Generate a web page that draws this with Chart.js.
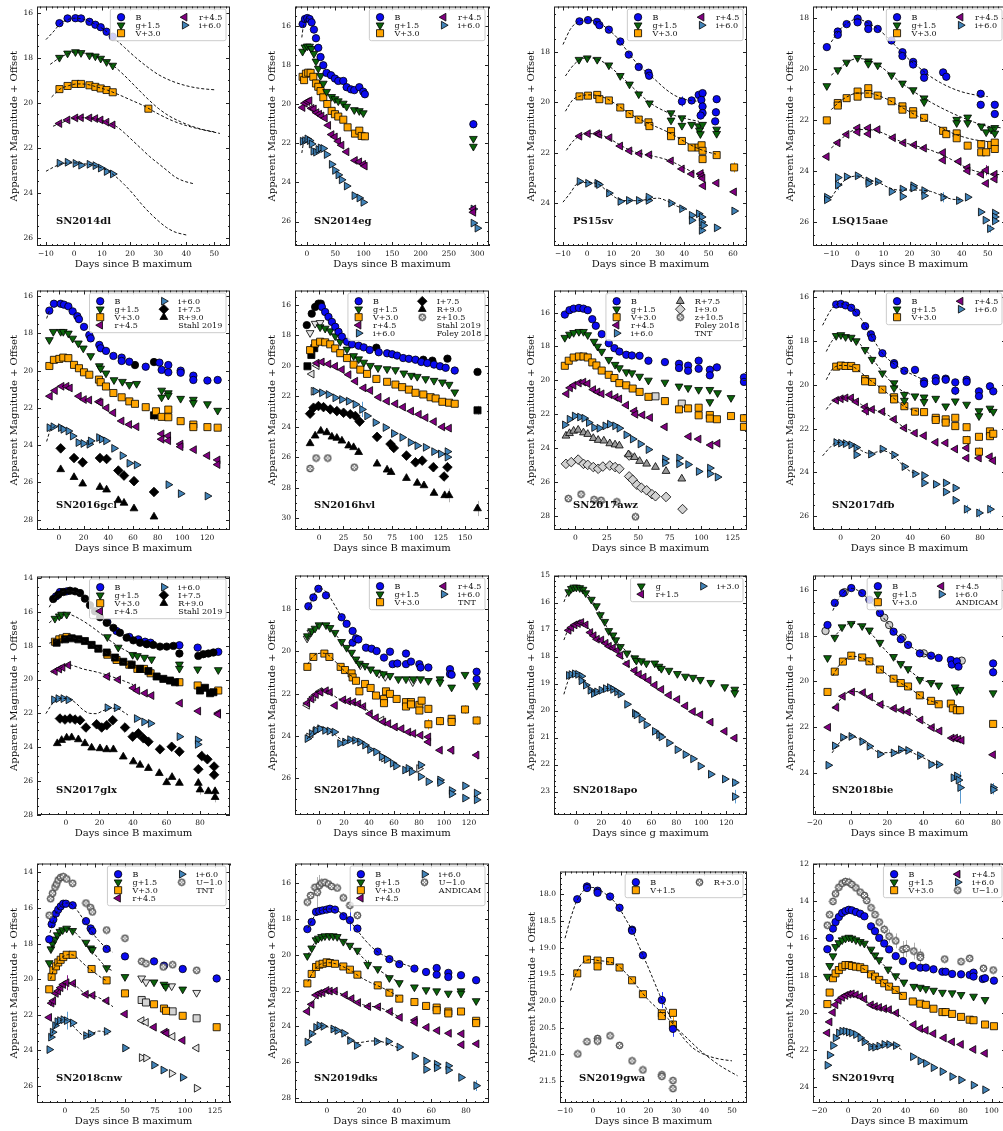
<!DOCTYPE html>
<html>
<head>
<meta charset="utf-8">
<script src="https://cdn.jsdelivr.net/npm/chart.js@4.4.1/dist/chart.umd.min.js"></script>
<style>
  body { margin: 0; background: #fff; }
  #wrap { position: relative; width: 1003px; height: 1131px; overflow: hidden; background: #fff; }
</style>
</head>
<body>
<div id="wrap"></div>
<script>
// ---- SN2014dl ----
const dl_B = [[-5.2,16.47],[-2.3,16.26],[0.5,16.25],[2.5,16.26],[5.5,16.41],[7.6,16.54],[9.5,16.65],[11.6,16.85],[13.8,17.07]];
const dl_g = [[-5.2,18.0],[-2.3,17.81],[0.5,17.75],[2.5,17.79],[5.5,17.9],[7.6,17.94],[9.5,18.04],[11.6,18.19],[13.8,18.35]];
const dl_V = [[-5.2,19.4],[-2.3,19.26],[0.5,19.17],[2.5,19.17],[5.5,19.23],[7.6,19.3],[9.5,19.37],[11.6,19.44],[13.8,19.54],[26.5,20.27]];
const dl_r = [[-5.2,20.93],[-2.3,20.77],[0.5,20.68],[2.5,20.67],[5.5,20.68],[7.6,20.71],[9.5,20.77],[11.6,20.87],[13.8,20.99]];
const dl_i = [[-5.2,22.69],[-2.3,22.65],[0.5,22.7],[2.5,22.78],[5.5,22.74],[7.6,22.8],[9.5,22.91],[11.6,23.06],[13.8,23.17]];
const dl_Bf = [[-10,17.2],[-7,16.8],[-5,16.5],[-2,16.3],[0,16.25],[3,16.28],[6,16.42],[10,16.7],[14,17.1],[18,17.55],[22,18.0],[26,18.4],[30,18.75],[35,19.05],[40,19.25],[45,19.37],[50,19.43]];
const dl_gf = [[-8.5,18.3],[-5,18.0],[-2,17.82],[0.5,17.75],[3,17.78],[6,17.88],[10,18.06],[14,18.36],[18,18.8],[22,19.3],[26,19.8],[30,20.25],[34,20.6],[38,20.85],[42,21.05],[46,21.2],[50,21.3]];
const dl_Vf = [[-8,19.75],[-5,19.4],[-2,19.25],[1,19.17],[4,19.18],[8,19.3],[12,19.45],[16,19.65],[20,19.87],[25,20.15],[30,20.5],[35,20.8],[40,21.02],[45,21.18],[52,21.37]];
const dl_rf = [[-7.5,21.05],[-5,20.93],[-2,20.77],[1,20.68],[4,20.67],[8,20.72],[12,20.87],[15,21.05],[18,21.35],[21,21.7],[24,22.05],[27,22.4],[30,22.7],[33,23.0],[36,23.3],[39,23.48],[42.5,23.6]];
const dl_if = [[-10,23.05],[-7,22.85],[-4,22.7],[0,22.68],[4,22.72],[8,22.82],[12,23.02],[15,23.3],[18,23.65],[21,24.05],[24,24.5],[27,24.9],[30,25.25],[33,25.55],[36,25.75],[40,25.88]];

// ---- SN2014eg ----
const eg_B = [[-7.6,15.92],[-3.5,15.66],[0.6,15.61],[4.7,15.66],[8.2,15.83],[12.3,16.2],[15.9,16.64],[20,17.13],[24,17.6],[28.8,18.02],[34.6,18.41],[42.3,18.53],[49.3,18.7],[55.2,18.82],[64,18.82],[69.9,19.14],[77.5,19.25],[83.4,19.29],[92.2,19.14],[99.2,19.37],[102,19.5],[293,21.03]];
const eg_g = [[-7.6,17.32],[-3.5,17.1],[0.6,17.05],[4.7,17.06],[8.2,17.18],[12.3,17.43],[15.9,17.82],[20,18.19],[24,18.56],[28.8,18.95],[34.6,19.37],[43.5,19.63],[49.3,19.74],[55.2,19.85],[64,19.97],[69.9,20.13],[83.4,20.3],[92.2,20.35],[99.2,20.46],[293,21.77],[293,22.17]];
const eg_V = [[-7.6,18.61],[-5,18.78],[-1.8,18.45],[2.3,18.4],[6.5,18.41],[11.2,18.61],[15.9,18.95],[20,19.12],[24,19.34],[28.8,19.66],[35.8,20.0],[43.5,20.35],[49.3,20.52],[55.2,20.64],[64,20.8],[71.6,21.19],[84.6,21.51],[92.2,21.36],[96.4,21.63],[102,21.65]];
const eg_r = [[-7.6,20.18],[-3.5,19.96],[0.6,19.88],[4.7,19.83],[8.2,20.22],[12.3,20.25],[17,20.44],[21.7,20.52],[25.8,20.61],[31.7,20.72],[37.6,21.09],[43.5,21.56],[49.3,21.68],[55.2,21.9],[61,22.1],[69.9,22.44],[84.6,22.88],[92.2,22.95],[99.2,23.08],[102,23.17],[293,25.36],[293,25.53]];
const eg_i = [[-7.6,21.9],[-3.5,21.87],[0.6,21.78],[4.7,21.87],[8.2,22.04],[11.2,22.41],[15.9,22.46],[20,22.32],[24,22.24],[28.8,22.27],[34.6,22.58],[43.5,23.08],[49.3,23.39],[55.2,23.62],[61,23.87],[69.9,24.19],[83.4,24.68],[92.2,24.8],[99.2,25.02],[293,25.36],[293,26.08],[300,26.34]];
const eg_Bf = [[-9,16.6],[-6,15.95],[-3,15.68],[0,15.61],[3,15.63]];
const eg_if = [[-9,22.5],[-6,21.98],[-3,21.84],[0,21.78]];
const eg_err = [[293,21.03,0.2,'B'],[293,25.45,0.2,'r'],[300,26.34,0.12,'i']];

// ---- PS15sv ----
const sv_B = [[-3.2,16.78],[0.3,16.73],[4,16.8],[5,16.93],[8.9,17.11],[13.6,17.58],[17.1,18.1],[21.2,18.59],[25.2,18.82],[25.5,18.94],[39,19.96],[43,19.92],[45.9,19.7],[47.5,19.63],[47,19.9],[47.5,20.16],[47.5,20.42],[46.7,20.52],[53.3,19.87],[53,20.39],[52.7,20.75]];
const sv_g = [[-3.4,18.3],[0,18.24],[4.1,18.3],[8.9,18.52],[13.6,18.94],[17.4,19.28],[21.2,19.67],[25.6,20.03],[34.5,20.42],[34.5,20.71],[39,20.62],[39,20.92],[43,20.88],[45.9,20.94],[46.2,21.11],[46.6,21.25],[47.5,20.88],[53.3,21.07],[53.3,21.24]];
const sv_V = [[-3.2,19.76],[0.3,19.73],[4.1,19.7],[5,19.87],[8.9,19.92],[13.6,20.2],[17.4,20.46],[21.2,20.68],[25.2,20.79],[25.6,20.94],[34.5,21.14],[34.5,21.34],[39,21.53],[43,21.79],[45.9,21.79],[47.1,21.7],[47.5,21.92],[47.5,22.25],[53.3,22.09],[60.5,22.58]];
const sv_r = [[-3.2,21.34],[0.3,21.24],[4.1,21.24],[5,21.27],[9.2,21.4],[13.6,21.73],[17.4,21.92],[21.5,22.03],[25.6,22.08],[34.5,22.32],[39,22.64],[43,22.84],[46.8,22.82],[47.1,22.93],[47.5,23.01],[47.8,23.31],[53.3,23.2],[60.5,23.55]];
const sv_i = [[-3.2,23.14],[0.3,23.21],[4.1,23.21],[4.8,23.26],[8.9,23.6],[13.6,23.93],[17.1,23.89],[21.2,23.89],[25.2,23.89],[25.2,23.76],[34.5,24.0],[39,24.22],[43,24.48],[43,24.68],[45.9,24.42],[47.1,24.55],[47.1,24.75],[47.1,25.08],[47.8,24.88],[53.3,24.98],[60.5,24.31]];
const sv_Bf = [[-10,17.7],[-7,17.1],[-4,16.8],[0,16.72],[4,16.8],[8,17.05],[12,17.4],[16,17.9],[20,18.4],[24,18.78],[28,19.1],[32,19.45],[36,19.72],[40,19.87],[45,19.95]];
const sv_gf = [[-9,18.95],[-6,18.55],[-3,18.3],[0,18.22],[4,18.28],[8,18.48],[12,18.8],[16,19.15],[20,19.52],[24,19.87],[28,20.15],[32,20.35],[36,20.52],[40,20.63],[46,20.75]];
const sv_Vf = [[-9,20.35],[-6,19.9],[-3,19.75],[0,19.7],[4,19.72],[8,19.85],[12,20.08],[16,20.35],[20,20.58],[24,20.78],[28,20.95],[32,21.12],[36,21.32],[40,21.55],[45,21.8],[50,21.98],[53,22.05]];
const sv_rf = [[-8.6,21.9],[-6,21.55],[-3,21.32],[0,21.24],[4,21.25],[8,21.38],[12,21.6],[16,21.82],[20,21.98],[24,22.07],[28,22.15],[32,22.25],[36,22.4],[40,22.6],[44,22.8],[48,22.98]];
const sv_if = [[-10,23.96],[-7,23.6],[-4,23.22],[0,23.18],[4,23.22],[8,23.5],[12,23.8],[16,23.9],[20,23.9],[25,23.85],[29,23.8],[33,23.92],[37,24.12],[41,24.25]];
const sv_err = [[39,19.96,0.2,'B'],[53,20.39,0.15,'B'],[60.5,22.58,0.2,'V'],[60.5,24.31,0.1,'i'],[60.5,23.55,0.1,'r'],[47.1,25.0,0.2,'i']];

// ---- LSQ15aae ----
const aae_B = [[-11.7,19.15],[-7.5,18.54],[-7.5,18.67],[-4.1,18.25],[0.1,18.03],[0.1,18.18],[4.2,18.25],[4.2,18.44],[7.8,18.44],[13.1,18.89],[17.3,19.35],[17.3,19.5],[21.4,19.73],[21.4,19.83],[25.6,20.14],[25.6,20.35],[32.9,20.14],[34.1,20.31],[47.3,20.98],[47.3,21.41],[52.7,21.41],[52.7,21.77]];
const aae_g = [[-11.7,20.67],[-7.5,20.05],[-4.1,19.75],[0.1,19.57],[4.2,19.7],[4.2,19.8],[7.8,19.86],[13.1,20.25],[17.3,20.57],[21.4,20.83],[25.6,21.15],[25.6,21.3],[38.1,21.99],[38.1,22.12],[42.3,21.9],[42.3,22.12],[47.5,22.25],[49.4,22.48],[51.3,22.38],[52.7,22.31],[52.7,22.53]];
const aae_V = [[-11.7,22.02],[-7.5,21.34],[-7.5,21.44],[-4.1,21.15],[0.1,20.89],[0.1,21.09],[4.2,20.76],[4.2,20.99],[7.8,21.05],[13.1,21.27],[17.3,21.47],[17.3,21.6],[21.4,21.66],[21.4,21.79],[25.6,21.92],[32.9,22.43],[34.1,22.56],[38.1,22.53],[38.1,22.72],[42.3,23.01],[47.5,22.95],[47.5,23.27],[49.4,23.27],[51.3,22.98],[52.7,22.89],[52.7,23.14]];
const aae_r = [[-11.7,23.44],[-7.5,22.9],[-4.1,22.57],[0.1,22.32],[0.1,22.48],[4.2,22.32],[4.2,22.55],[7.8,22.38],[13.7,22.7],[17.7,22.9],[21.8,22.98],[25.6,23.11],[32.9,23.28],[32.9,23.58],[38.9,23.63],[42.3,23.87],[42.3,24.0],[47.5,24.13],[49.4,23.97],[49.4,24.49],[52.7,24.13],[52.7,24.32]];
const aae_i = [[-11.7,25.03],[-11.7,25.13],[-7.5,24.26],[-7.5,24.55],[-4.1,24.23],[0.1,24.19],[4.2,24.39],[4.2,24.49],[7.8,24.42],[13.1,24.81],[17.3,24.71],[17.3,25.0],[21.4,24.58],[21.4,24.67],[25.6,24.77],[25.6,24.97],[32.9,25.03],[38.9,25.16],[42.3,25.03],[47.3,25.61],[49.1,25.93],[50.8,26.26],[52.7,25.65],[52.7,25.8],[52.7,25.96]];
const aae_Bf = [[-10,18.95],[-7,18.5],[-4,18.22],[0,18.05],[4,18.2],[8,18.45],[12,18.82],[16,19.25],[20,19.65],[24,19.98],[28,20.3],[32,20.55],[36,20.75],[40,20.9],[45,21.02],[50,21.09]];
const aae_gf = [[-10,20.25],[-7,20.0],[-4,19.75],[0,19.6],[4,19.65],[8,19.85],[12,20.15],[16,20.48],[20,20.78],[24,21.05],[28,21.3],[32,21.52],[36,21.72],[40,21.9],[45,22.1],[50,22.25],[55,22.31]];
const aae_Vf = [[-10,21.6],[-7,21.3],[-4,21.1],[0,20.95],[4,20.95],[8,21.05],[12,21.22],[16,21.45],[20,21.68],[24,21.9],[28,22.1],[32,22.3],[36,22.5],[40,22.65],[45,22.78],[50,22.85]];
const aae_rf = [[-10,23.1],[-7,22.85],[-4,22.55],[0,22.38],[4,22.38],[8,22.45],[12,22.62],[16,22.82],[20,22.95],[24,23.06],[28,23.18],[32,23.35],[36,23.55],[40,23.78],[45,24.0],[50,24.1],[55,24.15]];
const aae_if = [[-10,25.05],[-7,24.6],[-4,24.3],[0,24.2],[4,24.35],[8,24.45],[12,24.65],[16,24.75],[20,24.75],[24,24.75],[28,24.8],[32,24.95],[36,25.1],[39.5,25.13]];
const aae_err = [[34.1,20.31,0.15,'B'],[49.4,23.97,0.2,'r'],[50.8,26.26,0.15,'i'],[32.9,25.03,0.2,'i'],[-7.5,24.55,0.2,'i'],[32.9,23.4,0.2,'r']];

// ---- SN2016gcl ----
const gcl_B = [[-7.8,16.78],[-4.1,16.41],[1.4,16.41],[4.1,16.46],[7.6,16.55],[11.1,16.82],[14.9,17.08],[16.2,17.24],[20.3,17.65],[24.6,18.09],[25.7,18.27],[32.7,18.62],[33.8,18.8],[38.1,18.94],[44.1,19.21],[50.8,19.3],[50.8,19.48],[57,19.52],[70.3,19.79],[81.4,19.57],[83.2,19.96],[88.6,19.7],[88.6,20.09],[98.6,20.0],[98.6,20.11],[108.9,20.27],[108.9,20.5],[120.3,20.53],[128.6,20.5]];
const gcl_g = [[-7.8,18.35],[-4.6,17.91],[1.4,17.91],[3.5,17.91],[7.6,18.0],[11.1,18.27],[15.7,18.53],[19.7,18.8],[25.7,19.21],[32.7,19.75],[33.8,19.88],[38.1,20.14],[44.6,20.5],[51.4,20.59],[57,20.76],[62.9,20.7],[83.2,21.06],[83.2,21.43],[88.6,21.2],[88.6,21.33],[98.6,21.5],[108.9,21.55],[108.9,21.73],[120.3,21.79],[128.6,22.14]];
const gcl_V = [[-7.8,19.75],[-4.1,19.42],[0.3,19.37],[3.5,19.3],[7.6,19.33],[12.2,19.69],[16.2,19.87],[20.3,20.09],[24.6,20.22],[32.4,20.48],[33.8,20.62],[38.1,20.85],[44.1,21.2],[50.8,21.43],[57,21.65],[61.6,21.78],[70.3,21.96],[78.6,22.18],[83.2,22.48],[88.6,22.09],[88.6,22.5],[98.6,22.71],[108.9,22.89],[108.9,23.03],[120.3,23.03],[128.6,23.06]];
const gcl_r = [[-7.3,21.37],[-3.2,21.07],[2.2,20.84],[6.2,20.84],[8.9,20.93],[16.2,21.37],[20.3,21.55],[24.6,21.58],[32.4,21.67],[33.8,21.72],[38.6,22.0],[44.1,22.26],[50.8,22.7],[57,22.89],[62.9,23.01],[83.2,23.39],[83.2,23.68],[88.6,23.5],[88.6,23.76],[98.6,23.94],[98.6,24.08],[109.5,24.24],[120.3,24.56],[128.6,24.79],[128.6,25.04]];
const gcl_i = [[-7.8,23.06],[-4.6,23.01],[1.4,23.06],[3.5,23.15],[7.6,23.24],[11.1,23.51],[15.7,23.86],[19.7,23.91],[24.6,23.95],[25.7,23.77],[32.4,23.59],[34.6,23.68],[38.1,23.77],[44.6,24.17],[51.4,24.56],[57,24.97],[62.9,25.06],[88.6,26.12],[98.6,26.6],[120.3,26.73]];
const gcl_I = [[1.4,24.17],[12.2,24.69],[19.2,24.92],[33.2,24.69],[38.6,24.74],[48.1,25.36],[52.7,25.63],[60.8,25.93],[77,26.51]];
const gcl_R = [[1.4,25.3],[12.2,25.72],[19.2,26.07],[33.2,26.25],[38.6,26.39],[48.1,26.96],[52.7,27.1],[60.8,27.4],[77,27.84]];
const gcl_Bk = [[61.6,19.7],[77,19.54]];
const gcl_Vk = [[77,22.4]];
const gcl_Bf = [[-10,17.2],[-7.8,16.78]];
const gcl_if = [[-10,23.8],[-7,23.2],[-3,23.0],[0,22.95]];
const gcl_err = [[77,22.4,0.3,'k'],[77,26.51,0.2,'k'],[128.6,24.9,0.25,'r'],[98.6,26.6,0.12,'i'],[120.3,26.73,0.12,'i']];

// ---- SN2016hvl ----
const hvl_B = [[2.8,16.15],[6.2,16.48],[9.6,16.8],[13.1,17.13],[16.5,17.45],[19.9,17.78],[23.4,18.1],[28.6,18.43],[33.7,18.6],[40.6,18.69],[45.8,18.8],[51.9,18.97],[61.2,19.12],[69.8,19.19],[75,19.25],[80.1,19.34],[86.3,19.5],[92.2,19.55],[99,19.61],[104.9,19.76],[111.1,19.83],[118,19.93],[124.2,20.04],[130,20.14],[139.3,20.32]];
const hvl_Bk = [[-12.7,17.34],[-7.6,16.59],[-4.1,16.15],[-0.7,15.93],[1.7,15.93],[58.8,18.82],[107,19.61],[116.3,19.67],[131.8,19.54],[162.7,20.41]];
const hvl_g = [[1,17.47],[6.2,17.56],[11.4,17.73],[16.5,18.06],[21.7,18.43],[28.6,18.93],[35.4,19.36],[40.6,19.57],[45.8,19.79],[52.6,20.0],[60.5,20.15],[69.8,20.22],[78.4,20.28],[87,20.5],[94.6,20.65],[100.8,20.72],[109.4,20.87],[118,20.98],[126.6,21.09],[133.5,21.24],[139.3,21.74]];
const hvl_gw = [[-9.3,17.85],[-4.1,17.24],[1,17.19]];
const hvl_V = [[-9.3,18.98],[-4.1,18.54],[1,18.43],[6.2,18.47],[11.4,18.6],[16.5,18.87],[21.7,19.18],[28.6,19.5],[35.4,19.93],[42.3,20.26],[49.2,20.54],[58.8,20.87],[69.8,21.06],[78.4,21.24],[85.3,21.41],[92.2,21.57],[99,21.78],[107,21.89],[114.5,22.07],[119.7,22.15],[126.6,22.37],[133.5,22.43],[139.3,22.5]];
const hvl_Vk = [[-12,20.04],[-8,19.3],[-5,18.85],[162.7,22.93]];
const hvl_r = [[-2.4,19.83],[2.8,19.76],[9.6,19.89],[16.5,20.04],[23.4,20.26],[30.3,20.59],[37.2,21.02],[45.8,21.46],[52.6,21.63],[61.2,22.07],[69.8,22.33],[78.4,22.5],[86.3,22.72],[94.6,22.98],[102.5,23.19],[109.4,23.41],[118,23.67],[126.6,24.02],[133.5,24.1]];
const hvl_rw = [[-7.6,20.55],[-2.4,20.0]];
const hvl_i = [[-4.1,21.68],[2.8,21.78],[9.6,21.89],[16.5,22.11],[23.4,22.22],[30.3,22.33],[37.2,22.54],[44,22.87],[49.2,23.3],[57.8,23.73],[68.1,24.06],[76.7,24.45],[85.3,24.71],[93.9,25.04],[100.8,25.25],[109.4,25.36],[118,25.64],[124.9,25.79],[131.8,25.64],[131.8,26.0]];
const hvl_iw = [[-5.8,21.68]];
const hvl_I = [[-9.3,23.15],[-5.8,22.76],[-0.7,22.65],[4.5,22.72],[11.4,22.87],[18.2,22.98],[25.1,23.09],[32,23.19],[37.2,23.3],[41.6,23.67],[59.5,24.67],[73.3,25.14],[76.7,25.4],[89.7,25.9],[99,26.34],[105.9,26.23],[117.3,26.66],[128.3,27.27],[131.8,26.66]];
const hvl_R = [[-9.3,25.1],[-4.1,24.6],[1.7,24.28],[7.9,24.38],[13.1,24.67],[18.2,24.75],[23.4,24.93],[30.3,25.25],[35.4,25.36],[40.6,25.68],[59.5,26.44],[69.8,26.83],[73.9,26.99],[89.7,27.38],[100.8,27.7],[107.7,27.86],[118,28.36],[129,28.51],[133.5,28.51],[162.7,29.37]];
const hvl_z = [[-9.3,26.75],[-3.1,26.06],[8.9,26.06],[36.1,26.66]];
const hvl_err = [[44,22.87,0.5,'i'],[133.5,28.51,0.45,'k'],[162.7,29.37,0.5,'k'],[162.7,22.93,0.3,'k'],[118,26.66,0.3,'k']];

// ---- SN2017awz ----
const awz_B = [[-8.4,16.12],[-4.7,15.86],[-1.4,15.77],[2.8,15.73],[6.4,15.77],[9.8,15.86],[13.4,16.39],[16.2,16.78],[20.9,17.27],[26.5,17.81],[31,18.1],[34.9,18.3],[40.4,18.49],[44.9,18.53],[51,18.55],[58,18.84],[71.1,18.92],[82.3,19.02],[82.3,19.27],[89.5,19.13],[89.5,19.43],[97.9,18.84],[97.9,19.31],[106.8,19.37],[106.8,19.7],[112.4,19.23],[133.9,19.82],[133.9,20.09]];
const awz_g = [[-8.4,17.48],[-4.7,17.29],[-1.4,17.19],[2.8,17.13],[6.4,17.13],[9.8,17.32],[14.8,17.71],[17.6,18.0],[20.9,18.3],[26.5,18.78],[31.5,19.07],[34.9,19.27],[40.4,19.51],[44.9,19.57],[51,19.77],[58,20.0],[71.1,20.12],[82.3,20.35],[89.5,20.45],[97.9,20.55],[106.8,20.55],[106.8,21.27],[112.9,20.74],[123.6,21.03]];
const awz_V = [[-8.4,19.14],[-5.3,18.84],[-1.4,18.65],[2.8,18.59],[6.4,18.59],[9.8,18.65],[13.4,18.94],[16.7,19.12],[20.9,19.42],[26.5,19.67],[31,19.86],[34.9,20.16],[40.4,20.29],[45.5,20.48],[51,20.68],[58,20.97],[71.1,21.22],[82.3,21.71],[89.5,21.65],[97.9,21.61],[97.9,22.06],[106.8,22.04],[106.8,22.25],[112.4,22.29],[123.6,22.1],[133.9,22.23],[133.9,22.74]];
const awz_r = [[-7,20.79],[-4.2,20.44],[-1.4,20.29],[2.8,20.16],[6.4,20.1],[9.8,20.19],[14.2,20.54],[17.6,20.68],[20.9,20.79],[27.3,20.84],[32,21.0],[34.9,21.09],[40.4,21.46],[46.9,21.81],[47.7,22.0],[53.3,22.04],[59.4,22.19],[71.1,22.74],[90.1,23.31],[97.9,23.46],[107.4,23.81],[113,23.71]];
const awz_i = [[-8.4,22.62],[-4.7,22.29],[-0.6,22.1],[3.6,22.16],[7,22.23],[10.6,22.49],[14.8,22.78],[19,22.82],[23.7,22.68],[27.3,22.58],[31.5,22.68],[34.9,22.82],[40.4,23.21],[45.5,23.46],[51.6,23.75],[58,24.08],[71.1,24.63],[71.1,24.86],[82.3,24.57],[82.3,24.92],[89.5,24.96],[97.9,25.37],[106.8,25.17],[106.8,25.5],[112.9,25.7]];
const awz_R = [[-7.5,23.27],[-4.7,23.12],[-1.4,22.98],[2.2,22.92],[6.4,23.08],[9.8,23.17],[14.2,23.41],[18.1,23.52],[22.6,23.56],[27.3,23.72],[31.5,23.79],[34.9,23.85],[42.1,24.37],[46.9,24.53],[51,24.76],[56.6,24.92],[63.6,25.11],[72,25.35],[84.5,25.8]];
const awz_I = [[-7.5,24.92],[-3.3,24.82],[2.2,24.67],[6.4,24.92],[9.8,24.98],[14.2,25.11],[18.1,25.21],[21.8,25.08],[27.3,25.02],[31.5,25.11],[34.9,25.21],[42.7,24.43],[42.7,25.66],[45.5,25.86],[48.8,26.15],[52.4,26.33],[56.6,26.48],[60.8,26.71],[63.6,26.83],[72,26.87],[85.1,27.59]];
const awz_z = [[-5.6,26.97],[4.5,26.71],[14.8,27.03],[20.4,27.07],[32.9,27.16],[47.7,28.04]];
const awz_Vw = [[63.6,20.94],[84.5,21.37]];
const awz_err = [[133.9,19.95,0.25,'B'],[112.9,25.7,0.15,'i'],[106.8,25.35,0.15,'i']];

// ---- SN2017dfb ----
const dfb_B = [[-2.5,16.32],[0.2,16.29],[2.9,16.36],[6.1,16.47],[9,16.69],[14.1,17.31],[17.4,17.68],[18.1,17.84],[24,18.55],[30.7,19.0],[30.7,19.08],[36.6,19.35],[42.7,19.31],[47.9,19.83],[47.9,19.94],[54.6,19.68],[54.6,19.83],[60.3,19.71],[60.3,19.76],[65.8,19.88],[65.8,20.26],[72.3,19.76],[72.3,19.86],[79.4,20.29],[79.4,20.51],[85.7,20.06],[87.6,20.29]];
const dfb_g = [[-2.5,17.75],[0.2,17.71],[2.9,17.8],[6.1,17.83],[9,17.99],[14.1,18.39],[18.1,18.84],[24,19.46],[30.7,19.91],[30.7,20.14],[36.6,20.44],[36.6,20.71],[42.7,20.51],[47.9,20.56],[47.9,20.77],[54.6,20.62],[60.3,20.97],[65.8,20.74],[72.3,20.89],[79.4,21.19],[79.4,21.42],[85.7,21.07],[87.6,21.22]];
const dfb_V = [[-2.5,19.16],[0.2,19.11],[2.9,19.13],[6.1,19.13],[9,19.23],[14.1,19.73],[14.1,19.83],[18.1,19.86],[24,20.21],[30.7,20.56],[30.7,20.66],[36.6,20.97],[42.7,21.22],[47.9,21.24],[54.6,21.5],[54.6,21.6],[60.3,21.57],[60.3,21.72],[65.8,21.5],[65.8,21.88],[72.3,21.93],[72.3,22.52],[79.4,22.37],[79.4,23.05],[85.7,22.12],[85.7,22.34],[87.6,22.23]];
const dfb_r = [[-2.5,20.7],[0.2,20.63],[2.9,20.59],[6.1,20.59],[9,20.77],[14.1,21.01],[14.7,21.19],[18.1,21.12],[24,21.22],[30.7,21.57],[36.6,21.97],[42.7,22.2],[47.9,22.32],[54.6,22.62],[60.3,22.65],[65.8,22.93],[72.3,22.88],[72.3,23.34],[79.4,23.34],[85.7,23.28],[87.6,23.46]];
const dfb_i = [[-2.5,22.63],[0.2,22.66],[2.9,22.68],[6.1,22.74],[9,22.86],[9,23.19],[17.4,23.16],[24,22.93],[30.7,23.2],[36.6,23.73],[42.7,24.06],[47.9,24.14],[47.9,24.48],[54.6,24.54],[60.3,24.48],[60.3,24.89],[65.8,24.71],[65.8,25.27],[72.3,25.68],[79.4,25.85],[85.7,25.68]];
const dfb_Bf = [[-10.3,17.27],[-6,16.63],[-3,16.35],[0,16.28],[3,16.33],[6,16.45],[9,16.68],[12,17.0],[15,17.4],[18,17.8],[21,18.2],[24,18.55],[27,18.8],[30,19.0],[34,19.22],[38,19.4],[42,19.55],[47.5,19.76]];
const dfb_gf = [[-8.2,18.47],[-5,18.0],[-2,17.75],[1,17.7],[4,17.77],[8,17.93],[12,18.2],[16,18.55],[20,18.98],[24,19.4],[28,19.78],[32,20.08],[36,20.3],[40,20.42]];
const dfb_Vf = [[-8.2,19.76],[-5,19.3],[-2,19.13],[1,19.1],[4,19.12],[8,19.2],[12,19.45],[16,19.72],[20,19.95],[24,20.2],[28,20.45],[32,20.7],[36,20.95],[40,21.1],[44,21.2]];
const dfb_rf = [[-8.2,21.12],[-5,20.8],[-2,20.66],[1,20.6],[4,20.58],[8,20.68],[12,20.9],[16,21.08],[20,21.15],[24,21.25],[28,21.42],[32,21.67],[36,21.92],[40,22.07],[42,22.1]];
const dfb_if = [[-10.3,23.24],[-6,22.85],[-3,22.65],[0,22.63],[4,22.66],[8,22.8],[12,23.0],[16,23.12],[20,23.08],[24,23.0],[28,23.1],[32,23.35],[36,23.7],[40,23.95],[43,24.05]];
const dfb_err = [[65.8,20.26,0.2,'B'],[72.3,19.8,0.2,'B'],[87.6,20.29,0.15,'B'],[72.3,22.52,0.2,'V'],[79.4,23.05,0.2,'V'],[72.3,25.68,0.2,'i'],[79.4,25.85,0.2,'i'],[85.7,25.68,0.2,'i'],[14.7,21.19,0.2,'r'],[54.6,24.54,0.12,'i']];

// ---- SN2017glx ----
const glx_B = [[-6,15.08],[-3.6,14.82],[0.4,14.78],[24.7,16.6],[30.2,17.13],[37.8,17.48],[43.2,17.62],[47.2,17.76],[50.5,17.82],[67.7,17.97],[78.6,18.11],[90.9,18.36]];
const glx_Bk = [[-7.6,15.23],[-4.6,14.98],[-1.6,14.82],[2.4,14.74],[5.4,14.78],[8.4,14.88],[11.3,15.21],[14.3,15.6],[17.3,15.96],[20.3,16.31],[24.3,16.64],[28.3,16.94],[32.2,17.23],[36.2,17.52],[40.2,17.68],[44.2,17.82],[48.2,17.91],[52.1,17.95],[56.1,18.05],[60.1,18.05],[64.1,18.01],[67.7,18.46],[79,18.6],[82,18.5],[85,18.46],[88,18.4]];
const glx_g = [[-6.6,16.39],[-4,16.25],[-2.6,16.15],[0.4,16.15],[24.7,17.48],[31.2,18.1],[39.8,18.53],[42.6,18.6],[46.8,18.7],[51.1,18.8],[67.7,19.1],[67.7,19.35],[78.6,19.39],[90.9,19.43]];
const glx_V = [[-6.6,17.76],[-4,17.62],[-2,17.56],[0.4,17.48],[24.7,18.53],[30.2,18.84],[37.8,19.12],[42.6,19.37],[46.6,19.37],[50.5,19.63],[67.7,20.16],[78.6,20.35],[90.9,20.65]];
const glx_Vk = [[-5.6,17.82],[-0.6,17.62],[3.4,17.56],[7.4,17.62],[11.3,17.72],[15.3,17.95],[19.3,18.17],[24.3,18.4],[29.3,18.7],[34.2,18.95],[39.2,19.12],[44.2,19.37],[49.2,19.5],[54.1,19.82],[58.1,19.96],[62.1,20.06],[65.1,20.16],[80,20.65],[83,20.49],[86,20.81],[88,20.75]];
const glx_r = [[-6.6,19.52],[-4,19.38],[-2,19.28],[1.4,19.15],[24.7,19.82],[31.2,20.01],[40.2,20.5],[42.6,20.66],[47.2,20.81],[51.1,20.95],[68.1,21.4],[79,21.87],[90.9,21.99],[90.9,22.06]];
const glx_i = [[-7.2,21.2],[-4.6,21.13],[-1.6,21.13],[1.4,21.2],[24.7,21.67],[30.2,21.67],[42.2,22.31],[46.6,22.51],[50.5,22.6],[67.7,23.38],[78.6,23.58],[78.6,23.84]];
const glx_I = [[-3.6,22.31],[-0.6,22.37],[2.4,22.31],[5.4,22.37],[8.4,22.41],[11.9,22.84],[18.3,22.65],[21.3,22.84],[24.3,22.71],[27.9,22.41],[35.2,22.84],[39.8,23.38],[43.2,23.19],[46.2,23.48],[49.2,23.68],[56.1,24.13],[63.1,23.98],[67.7,24.27],[79,25.31],[81,24.53],[84.4,24.72],[88.4,25.15],[88.4,25.64]];
const glx_R = [[-5.2,23.78],[-2.6,23.59],[0.4,23.45],[3.4,23.43],[7.4,23.55],[11.3,23.78],[15.3,24.04],[20.3,24.08],[24.3,24.14],[28.3,24.14],[34.2,24.57],[40.2,24.86],[44.2,25.06],[49.2,25.25],[55.7,25.55],[60.1,26.09],[63.3,25.78],[67.7,26.13],[79,26.13],[80,26.52],[85,26.62],[89,26.62],[89,26.97]];
const glx_Bf = [[-10,15.72],[-7,15.2],[-4,14.9],[0,14.75],[4,14.78],[8,14.92],[12,15.25],[16,15.7],[20,16.2],[24,16.6],[28,16.9]];
const glx_gf = [[-10,16.64],[-6,16.32],[-2,16.15],[1,16.12],[5,16.25],[10,16.52],[15,16.85],[20,17.22],[25,17.6],[30,17.95],[35,18.25],[38,18.4]];
const glx_Vf = [[-10,17.85],[-6,17.7],[-2,17.55],[1,17.47],[5,17.55],[10,17.7],[15,17.92],[20,18.2],[25,18.5],[30,18.8],[35,19.02],[40,19.2]];
const glx_rf = [[-8.6,19.6],[-5,19.42],[-2,19.25],[1.5,19.12],[5,19.2],[10,19.37],[15,19.48],[20,19.6],[25,19.75],[30,19.92],[35,20.1],[40,20.3]];
const glx_if = [[-12,22.02],[-9,21.55],[-6,21.2],[-2,21.12],[2,21.15],[6,21.4],[10,21.78],[14,22.0],[18,22.02],[22,21.85],[26,21.72],[30,21.7],[34,21.9],[37,22.1]];
const glx_err = [[89,26.97,0.3,'k'],[80,26.52,0.3,'k'],[81,24.53,0.3,'k'],[46.6,19.37,0.15,'V']];

// ---- SN2017hng ----
const hng_B = [[-8.5,17.86],[-4.5,17.44],[-0.5,17.03],[5.6,17.34],[18.1,18.38],[22.1,18.69],[26.9,19.03],[26.9,19.58],[29.6,19.38],[31.5,19.43],[37.6,19.82],[42.1,19.87],[46.1,19.98],[52,20.29],[56.8,20.01],[58.9,20.6],[62.7,20.57],[69.6,20.1],[69.6,20.6],[73.6,20.48],[80.3,20.6],[81.3,20.76],[87.5,20.76],[104.8,20.84],[104.8,21.07],[106.1,21.1],[126.1,20.96],[126.1,21.31]];
const hng_g = [[-9.3,19.27],[-5.9,19.03],[-3.2,18.91],[0,18.75],[5.6,18.75],[8.8,18.88],[12.8,19.11],[18.1,19.54],[22.1,19.82],[26.1,20.05],[29.6,20.37],[32.3,20.57],[36.8,20.68],[41.3,20.84],[46.1,20.99],[51.5,21.07],[56.8,21.15],[63.5,21.31],[69.6,21.31],[75.5,21.31],[81.3,21.31],[87.5,21.39],[96.8,21.31],[96.8,21.46],[106.1,21.7],[116.8,21.1],[126.1,21.62]];
const hng_gw = [[-9.5,19.38],[-6.5,19.1],[33,20.65],[48,21.05],[53,21.2],[75,21.45]];
const hng_V = [[-9.3,20.73],[-4.5,20.26],[4.3,20.1],[8.3,20.26],[17.3,20.73],[20.8,20.88],[26.1,21.04],[26.9,21.23],[29.6,21.39],[32.3,21.89],[36.8,21.54],[41.3,21.73],[45.6,22.09],[52,22.25],[52,22.45],[53.6,21.89],[56.8,22.01],[62.1,22.25],[69.6,22.4],[69.6,22.61],[73.6,22.4],[73.6,22.51],[80.3,22.53],[80.3,22.8],[82.1,22.33],[87.5,22.72],[87.5,23.45],[96.8,23.3],[106.1,23.19],[106.1,23.34],[116.8,22.75],[126.1,23.27]];
const hng_r = [[-9.3,22.45],[-5.9,22.25],[-2.4,22.04],[1.3,21.93],[5.6,21.86],[8.8,21.93],[12.8,22.56],[19.5,22.29],[23.5,22.36],[27.5,22.4],[31.5,22.48],[35.5,22.61],[40.8,22.95],[45.6,23.14],[51.5,23.34],[55.5,23.42],[60.8,23.58],[66.1,23.66],[71.5,23.82],[75.5,23.89],[81.3,23.97],[87.5,24.05],[87.5,24.29],[96.8,24.68],[106.1,24.68],[126.1,24.91]];
const hng_rw = [[-9.5,22.55],[-4.5,22.15],[0.5,21.9],[50,23.25]];
const hng_i = [[-9.3,24.13],[-5.9,23.89],[-2.4,23.74],[0.8,23.66],[4.8,23.74],[8.3,23.77],[12.3,23.82],[16.8,24.36],[20.8,24.29],[24.8,24.18],[28.8,24.21],[32.8,24.29],[36.8,24.44],[40.8,24.65],[45.6,24.76],[50.1,24.99],[54.1,25.12],[58.9,25.3],[61.6,25.43],[68.8,25.62],[71.5,25.54],[74.1,25.7],[81.3,25.38],[81.3,25.93],[87.5,26.17],[96.8,26.09],[96.8,26.21],[106.1,26.59],[106.1,26.75],[116.8,26.37],[116.8,26.95],[126.1,26.71],[126.1,27.03]];
const hng_iw = [[-8,24.05],[-3,23.78],[52,25.05],[80,25.55]];
const hng_Bf = [[-8.5,18.0],[-5,17.45],[-2,17.1],[0,17.02],[3,17.05],[6,17.2],[9,17.45],[12,17.75],[15,18.05],[18,18.38]];
const hng_gf = [[-9.5,19.35],[-6,19.0],[-3,18.8],[0,18.72],[3,18.72],[6,18.8],[10,18.98],[14,19.25],[18,19.55],[22,19.85],[26,20.15],[30,20.42],[34,20.62],[38,20.75],[42,20.85]];
const hng_Vf = [[-9,20.6],[-5,20.25],[-1,20.1],[3,20.08],[7,20.15],[11,20.35],[15,20.6],[19,20.85],[23,21.05],[27,21.2]];
const hng_rf = [[-9.5,22.5],[-6,22.2],[-3,22.0],[0,21.88],[4,21.84],[8,21.92],[12,22.1],[16,22.25],[20,22.32],[25,22.38],[30,22.45],[35,22.58],[40,22.85],[44,23.0]];
const hng_if = [[-9.5,24.15],[-6,23.85],[-3,23.62],[0,23.55],[4,23.62],[8,23.75],[12,23.9],[16,24.1],[20,24.22],[25,24.2],[30,24.22],[35,24.38],[40,24.6],[44,24.75]];
const hng_err = [[26.9,19.58,0.2,'B'],[87.5,23.45,0.25,'V'],[96.8,23.3,0.2,'V'],[116.8,22.75,0.2,'V'],[126.1,23.27,0.2,'V'],[52,22.3,0.2,'V'],[106.1,24.68,0.2,'r'],[126.1,24.91,0.2,'r'],[106.1,26.67,0.2,'i'],[126.1,26.85,0.2,'i'],[104.8,21.0,0.15,'B']];

// ---- SN2018apo ----
const apo_g = [[-6.1,15.61],[-4,15.49],[-2.1,15.44],[0,15.44],[2.7,15.46],[5.3,15.52],[7.5,15.65],[12,15.89],[16,16.13],[19.2,16.46],[22.7,16.71],[25.9,17.05],[29.3,17.21],[31.5,17.39],[35.2,17.64],[40.5,17.88],[46.7,18.06],[48,18.15],[52,18.17],[56,18.25],[62.7,18.25],[66.1,18.37],[68,18.45],[74.1,18.52],[80.8,18.64],[87.2,18.74],[93.3,18.78],[99.2,18.86],[107.5,18.97],[118.7,19.13],[126.7,19.22],[126.7,19.35]];
const apo_r = [[-6.1,17.03],[-4,16.93],[-1.3,16.83],[1.3,16.78],[4,16.74],[7.5,16.83],[11.2,17.11],[13.9,17.23],[16.5,17.36],[20,17.39],[23.5,17.51],[26.1,17.62],[29.3,17.68],[32.5,17.78],[35.2,17.96],[40.5,18.27],[46.7,18.52],[50.1,18.66],[53.9,18.76],[57.9,18.88],[62.7,19.06],[68,19.22],[74.1,19.43],[80.8,19.59],[87.2,19.83],[93.3,20.04],[99.2,20.16],[107.5,20.43],[118.7,20.77],[126.7,21.02]];
const apo_i = [[-6.1,18.7],[-4,18.67],[-1.3,18.64],[1.3,18.66],[4,18.73],[4,18.9],[7.5,19.06],[11.2,19.25],[13.9,19.37],[16.5,19.31],[20,19.25],[23.5,19.19],[26.7,19.15],[29.3,19.22],[32.5,19.31],[35.2,19.39],[40.5,19.77],[46.7,20.1],[48,20.16],[52,20.32],[56,20.53],[62.7,20.77],[66.1,20.9],[68,20.98],[74.1,21.2],[80.8,21.45],[87.2,21.63],[93.3,21.79],[99.2,22.06],[107.5,22.36],[118.7,22.54],[126.7,22.67],[126.7,23.19]];
const apo_gf = [[-10,15.98],[-7,15.65],[-4,15.48],[0,15.43],[4,15.48],[8,15.65],[12,15.88],[16,16.15],[20,16.5],[24,16.88],[28,17.2],[32,17.45],[36,17.63],[40,17.8],[44,17.95],[48,18.08]];
const apo_rf = [[-10,17.39],[-7,17.05],[-4,16.9],[0,16.78],[4,16.75],[8,16.85],[12,17.1],[16,17.3],[20,17.4],[24,17.52],[28,17.65],[32,17.78],[36,17.98],[40,18.25],[44,18.45],[48,18.6]];
const apo_if = [[-10,19.4],[-7,18.95],[-4,18.7],[0,18.63],[4,18.75],[8,19.05],[12,19.28],[16,19.32],[20,19.25],[24,19.18],[28,19.2],[32,19.3],[36,19.45]];
const apo_err = [[126.7,23.19,0.25,'i'],[126.7,22.67,0.12,'i'],[118.7,22.54,0.1,'i'],[4,16.74,0.08,'r']];

// ---- SN2018bie ----
const bie_B = [[-12.9,17.53],[-8.9,16.56],[-4.4,16.13],[0.2,15.91],[6.2,16.13],[10.2,16.42],[16,17.0],[23.5,17.82],[27.5,18.15],[31.5,18.4],[38,18.77],[44.2,18.87],[48.4,18.97],[55.1,19.06],[55.6,19.26],[58.4,19.12],[59.3,19.35],[78.4,19.21],[78.4,19.6]];
const bie_Bw = [[-14,17.79],[-3.5,16.09],[18.4,17.21],[21.1,17.53],[28.4,18.08],[40.2,18.77],[61.1,19.09]];
const bie_g = [[-12.9,18.97],[-8.9,18.08],[-4.9,17.62],[0.2,17.47],[6.2,17.57],[10.2,17.76],[16,18.3],[23.5,18.92],[27.5,19.23],[31.5,19.45],[38,19.93],[44.2,20.06],[48.4,20.17],[57.5,20.25],[58.4,20.42],[60.2,20.36],[78.4,20.51]];
const bie_V = [[-12.9,20.46],[-8.9,19.57],[-4.4,19.13],[0.2,18.87],[6.2,18.95],[10.2,19.12],[16,19.48],[23.5,19.88],[27.5,20.07],[31.5,20.22],[38,20.61],[44.2,20.85],[48.4,21.0],[55.1,20.97],[56.2,21.18],[58.4,21.26],[60.2,21.26],[78.4,21.86]];
const bie_r = [[-12.5,22.01],[-8,21.14],[-4.4,20.65],[0.7,20.46],[6.7,20.49],[10.7,20.68],[16.5,21.01],[23.8,21.18],[28,21.26],[31.5,21.34],[38.4,21.69],[44.7,22.02],[48.9,22.17],[55.6,22.48],[57.5,22.48],[59.3,22.53],[61.1,22.58],[78.4,23.21]];
const bie_i = [[-12.5,23.67],[-8.9,22.82],[-4.4,22.45],[0.2,22.41],[6.2,22.63],[10.2,22.84],[16,23.18],[23.5,23.13],[27.5,22.99],[31.5,23.02],[38,23.25],[44.2,23.64],[48.4,23.64],[56.5,24.22],[58.4,24.14],[59.3,24.32],[60.2,24.65],[78.4,24.65],[78.4,24.75]];
const bie_Bf = [[-10,16.9],[-7,16.4],[-4,16.1],[0,15.92],[4,16.02],[8,16.28],[12,16.62],[16,17.02],[20,17.42],[24,17.85],[28,18.18],[32,18.42],[36,18.62],[40,18.78],[45,18.93]];
const bie_gf = [[-10,18.1],[-7,17.85],[-4,17.6],[0,17.45],[4,17.5],[8,17.68],[12,17.98],[16,18.35],[20,18.72],[24,19.0],[28,19.25],[32,19.5],[36,19.75],[40,19.95],[45,20.08],[48,20.12]];
const bie_Vf = [[-10,19.75],[-7,19.35],[-4,19.1],[0,18.9],[4,18.92],[8,19.05],[12,19.22],[16,19.45],[20,19.7],[24,19.92],[28,20.1],[32,20.28],[36,20.5],[40,20.72],[45,20.88],[48,20.95]];
const bie_rf = [[-10,21.2],[-7,20.9],[-4,20.62],[0,20.44],[4,20.45],[8,20.58],[12,20.8],[16,20.98],[20,21.1],[24,21.18],[28,21.25],[32,21.35],[36,21.55],[40,21.78],[45,22.0],[48,22.12]];
const bie_if = [[-10.4,23.13],[-7,22.75],[-4,22.48],[0,22.38],[4,22.5],[8,22.7],[12,22.95],[16,23.12],[20,23.12],[24,23.08],[28,23.02],[32,23.05],[36,23.2],[40,23.35],[44,23.5],[48,23.65]];
const bie_err = [[60.2,24.65,0.7,'i'],[78.4,19.4,0.3,'B'],[78.4,24.7,0.25,'i'],[78.4,21.86,0.15,'V']];

// ---- SN2018cnw ----
const cnw_B = [[-13.1,17.76],[-11.1,16.91],[-9.7,16.65],[-7.5,16.31],[-5.6,16.09],[-3.6,15.91],[-1.4,15.76],[0.8,15.76],[6.4,15.85],[17.5,16.74],[21.4,17.15],[22.8,17.3],[34.7,18.3],[50,18.72],[74.2,19.0],[82.5,19.24],[98.1,19.43],[126.4,19.96]];
const cnw_U = [[-13.1,16.41],[-11.9,15.48],[-10.3,15.17],[-8.3,14.83],[-6.9,14.65],[-5.6,14.43],[-3.6,14.28],[-1.4,14.24],[1.4,14.37],[6.4,14.61],[17.5,15.72],[21.4,15.98],[22.8,16.22],[34.7,17.24],[50,17.7],[63.9,19.0],[67.5,19.13],[81.9,19.31],[89.7,19.19],[109.7,19.5]];
const cnw_g = [[-13.1,19.09],[-11.7,18.31],[-10.3,18.02],[-8.3,17.76],[-6.4,17.52],[-4.2,17.33],[-1.9,17.24],[1.4,17.15],[6.4,17.28],[17.5,17.94],[21.4,18.26],[22.8,18.35],[34.7,19.37],[50,19.87],[74.2,20.17],[82.5,20.3],[83.9,20.43],[98.1,20.57]];
const cnw_gw = [[63.9,19.95],[67.5,20.17],[88.9,20.39],[109.7,20.76]];
const cnw_V = [[-13.1,20.57],[-11.1,19.87],[-9.7,19.5],[-7.5,19.28],[-5.6,19.06],[-3.6,18.91],[-1.4,18.76],[1.4,18.63],[6.4,18.63],[22.2,19.43],[34.7,20.07],[50,20.8],[74.2,21.41],[82.5,21.65],[84.2,21.78],[98.1,22.06],[126.4,22.7]];
const cnw_Vw = [[63.9,21.17],[67.5,21.31],[89.7,21.81],[109.7,22.2]];
const cnw_r = [[-13.1,22.15],[-11.1,21.35],[-9.7,21.22],[-7.5,20.8],[-5.6,20.67],[-3.6,20.48],[-1.4,20.3],[1.4,20.2],[6.9,20.24],[17.5,20.85],[23.1,20.91],[34.7,21.22],[50,21.96],[74.2,22.7],[83.3,22.98],[84.7,23.04],[98.1,23.44]];
const cnw_rw = [[63.9,22.33],[67.5,22.43],[89.7,23.22],[109.7,23.87]];
const cnw_i = [[-13.1,23.96],[-11.7,23.26],[-10.3,22.98],[-8.3,22.61],[-6.4,22.39],[-4.2,22.33],[-1.4,22.28],[1.4,22.33],[6.4,22.46],[17.5,23.17],[21.4,23.07],[34.7,22.94],[50,23.87],[74.2,24.83],[81.9,25.11],[98.1,25.52]];
const cnw_iw = [[63.9,24.41],[67.5,24.43],[88.9,25.3],[109.7,26.13]];
const cnw_Bf = [[-12.5,17.4],[-10,16.8],[-7,16.25],[-4,15.9],[-1,15.75],[2,15.72],[5,15.78],[8,15.95],[12,16.3],[16,16.72],[20,17.12],[24,17.5],[28,17.82],[32,18.1],[36,18.32],[40,18.5]];
const cnw_gf = [[-12,18.5],[-9,17.9],[-6,17.55],[-3,17.3],[0,17.18],[3,17.12],[7,17.28],[11,17.55],[15,17.85],[19,18.15],[23,18.45],[27,18.78],[31,19.1],[35,19.35],[40,19.55]];
const cnw_Vf = [[-12,20.0],[-9,19.35],[-6,19.05],[-3,18.8],[0,18.68],[3,18.62],[7,18.65],[11,18.85],[15,19.1],[19,19.35],[23,19.55],[27,19.75],[31,19.95],[35,20.1]];
const cnw_rf = [[-12,21.5],[-9,21.05],[-6,20.7],[-3,20.42],[0,20.25],[4,20.2],[8,20.3],[12,20.55],[16,20.78],[20,20.9],[25,20.95],[30,21.1],[35,21.3],[40,21.55]];
const cnw_if = [[-12,23.3],[-9,22.75],[-6,22.42],[-3,22.3],[0,22.28],[4,22.4],[8,22.72],[12,23.0],[16,23.18],[20,23.15],[24,23.02],[28,22.92],[32,22.95],[36,23.1]];
const cnw_err = [[1.4,20.2,0.42,'r'],[1.4,22.33,0.5,'i']];

// ---- SN2019dks ----
const dks_B = [[-11.3,18.56],[-8.8,18.16],[-6.3,17.6],[-4.4,17.55],[-2.5,17.51],[-0.2,17.47],[1.7,17.42],[4.6,17.47],[9.4,17.84],[13.2,18.06],[17.5,18.53],[29.2,19.82],[35.9,20.24],[41.6,20.52],[50.3,20.77],[57,20.96],[63.1,20.74],[63.1,21.11],[69.8,21.01],[69.8,21.24],[77.1,21.14],[85.8,21.42]];
const dks_U = [[-11.3,17.05],[-9.4,16.68],[-6.9,16.22],[-5.6,16.5],[-4.4,16.13],[-3.1,15.98],[-1.2,15.94],[0.8,16.04],[2.7,16.17],[5.9,16.26],[9.4,16.81],[13.2,17.23],[17.5,17.79]];
const dks_g = [[-11.3,20.06],[-8.8,19.63],[-6.3,19.17],[-5,19.08],[-3.1,18.99],[-1.2,18.95],[1.3,18.95],[3.6,18.95],[5.9,18.99],[9.4,19.26],[13.2,19.48],[17.5,19.76],[23.4,20.55],[29.2,20.79],[35.9,21.29],[41.6,21.57],[50.3,21.81],[57,21.97],[63.1,22.03],[69.8,22.16],[77.1,22.03],[77.1,22.16],[85.8,22.58]];
const dks_V = [[-11.3,21.6],[-8.8,21.07],[-6.3,20.68],[-4.4,20.55],[-2.5,20.5],[-0.2,20.42],[1.7,20.46],[4.6,20.5],[9.4,20.65],[13.2,20.83],[17.5,21.11],[29.2,21.71],[35.9,22.12],[41.6,22.45],[50.3,22.64],[57,22.86],[63.1,22.95],[63.1,23.1],[69.8,23.17],[69.8,23.28],[77.1,23.17],[85.8,23.69],[85.8,23.82]];
const dks_r = [[-11.3,23.17],[-8.8,22.77],[-6.3,22.25],[-4.4,22.16],[-2.5,22.12],[-0.2,21.99],[1.7,22.03],[4.6,22.03],[10.4,22.25],[14.2,22.45],[18,22.67],[23.8,22.89],[29.5,22.91],[36.3,23.17],[42,23.5],[50.6,23.65],[50.6,23.78],[57.4,24.06],[63.5,24.24],[70.2,24.39],[77.5,24.42],[77.5,25.03],[86.1,24.98]];
const dks_i = [[-11.3,24.88],[-8.8,24.42],[-6.3,24.06],[-4.4,23.96],[-2.1,24.0],[3.6,24.15],[5.9,24.24],[9.8,24.39],[13.2,24.79],[17.1,25.07],[28.6,24.85],[35.3,24.85],[41.6,25.16],[50.3,25.66],[57,25.94],[57,26.41],[63.1,26.12],[63.1,26.32],[69.8,26.21],[69.8,26.45],[77.1,26.86],[85.8,27.32]];
const dks_Bf = [[-11,18.5],[-8,17.95],[-5,17.6],[-2,17.47],[1,17.43],[4,17.46],[8,17.65],[12,18.0],[16,18.45],[20,18.95],[24,19.4],[28,19.75],[32,20.0],[36,20.2],[40,20.38],[44,20.52],[48,20.65]];
const dks_gf = [[-11,20.0],[-8,19.45],[-5,19.1],[-2,18.97],[1,18.93],[5,18.97],[9,19.2],[13,19.45],[17,19.78],[21,20.2],[25,20.55],[29,20.8],[33,21.05],[37,21.3],[41,21.5]];
const dks_Vf = [[-11,21.5],[-8,20.95],[-5,20.6],[-2,20.47],[1,20.44],[5,20.5],[9,20.65],[13,20.85],[17,21.1],[21,21.35],[25,21.55],[29,21.72],[33,21.9],[37,22.1],[41,22.35]];
const dks_rf = [[-11,23.0],[-8,22.6],[-5,22.25],[-2,22.08],[1,22.02],[5,22.05],[9,22.22],[13,22.42],[17,22.62],[21,22.8],[25,22.88],[29,22.92],[33,23.05],[37,23.22],[41,23.45]];
const dks_if = [[-11,24.8],[-8,24.35],[-5,24.02],[-2,23.97],[1,24.05],[5,24.2],[9,24.4],[13,24.72],[17,24.92],[21,24.88],[25,24.82],[29,24.82],[33,24.9],[37,25.05],[41,25.2]];
const dks_err = [[-5.6,16.5,0.85,'k'],[-4.4,16.13,0.6,'k'],[13.2,18.06,0.6,'B'],[13.2,17.23,0.4,'k'],[23.4,20.55,0.25,'g'],[23.8,22.89,0.2,'r'],[85.8,27.32,0.3,'i'],[63.1,21.0,0.2,'B']];

// ---- SN2019gwa ----
const gwa_B = [[-5.6,18.09],[-2.1,17.85],[-2.1,17.88],[1.7,17.93],[1.7,17.97],[6.2,18.04],[9.6,18.25],[14.1,18.66],[14.1,18.68],[18,19.14],[24.8,19.98],[28.8,20.52]];
const gwa_V = [[-5.6,19.48],[-2.1,19.22],[1.7,19.24],[1.7,19.35],[6.2,19.25],[9.6,19.37],[14.1,19.61],[18,19.87],[24.8,20.23],[24.8,20.28],[28.8,20.22],[28.8,20.44]];
const gwa_R = [[-5.4,20.99],[-2.1,20.76],[1.7,20.7],[1.7,20.75],[6.2,20.65],[9.6,20.83],[14.1,21.12],[18,21.29],[24.8,21.38],[24.8,21.41],[28.8,21.49],[28.8,21.64]];
const gwa_Bf = [[-10,18.82],[-8,18.45],[-6,18.15],[-4,17.97],[-2,17.88],[0,17.87],[2,17.9],[4,17.97],[6,18.05],[8,18.15],[10,18.3],[12,18.48],[14,18.66],[16,18.9],[18,19.14],[20,19.38],[22,19.63],[24,19.88],[26,20.1],[28,20.32],[30,20.5],[33,20.72],[36,20.88],[40,21.0],[45,21.08],[50,21.12]];
const gwa_Vf = [[-8,19.8],[-6,19.48],[-4,19.3],[-2,19.23],[0,19.22],[2,19.24],[4,19.25],[6,19.27],[8,19.3],[10,19.38],[12,19.48],[14,19.6],[16,19.73],[18,19.86],[20,19.98],[22,20.08],[24,20.18],[26,20.28],[28,20.38],[30,20.5],[34,20.7],[38,20.9],[42,21.07],[46,21.22],[52,21.4]];
const gwa_err = [[-2.1,17.86,0.07,'B'],[24.8,19.98,0.15,'B'],[28.8,20.45,0.22,'B'],[24.8,20.25,0.08,'V'],[28.8,20.33,0.12,'V'],[14.1,18.67,0.05,'B']];

// ---- SN2019vrq ----
const vrq_U = [[-14.4,15.29],[-12.8,14.72],[-10.5,14.01],[-8.7,13.6],[-6.4,13.25],[-4.1,13.03],[-1.8,12.94],[0.5,12.98],[2.7,13.1],[5.5,13.28],[8.5,13.51],[11.4,13.69],[13,13.96],[16,14.35],[18.8,14.72],[21.7,15.12],[25.2,15.51],[28.6,15.88],[33.2,16.13],[38.2,16.59],[40.5,16.54],[45.8,16.68],[50.3,16.9],[50.3,17.02],[67.3,17.11],[78.7,17.25],[84.7,17.07],[94.3,17.61],[101.1,17.7]];
const vrq_B = [[-14.4,16.58],[-12.8,15.97],[-10.5,15.47],[-8.7,15.12],[-6.4,14.85],[-4.1,14.63],[-1.8,14.53],[0.5,14.46],[2.7,14.49],[5.5,14.58],[8.5,14.67],[11.4,14.81],[16,15.35],[18.8,15.61],[21.7,15.97],[25.2,16.27],[28.6,16.59],[33.2,16.95],[38.2,17.22],[45.1,17.47],[50.3,17.57],[54.2,17.57],[59.5,17.66],[65.7,17.79],[68,17.79],[72.5,17.91],[78.7,17.93],[84.7,17.96],[87.4,17.84],[87.4,18.05],[93.8,18.18],[95.4,18.14],[101.6,18.27]];
const vrq_g = [[-14.4,18.05],[-12.8,17.47],[-10.5,16.95],[-8.7,16.45],[-6.4,16.24],[-4.1,16.09],[-1.8,16.0],[0.5,15.95],[2.7,16.0],[5.5,16.09],[8.5,16.18],[11.4,16.27],[16,16.59],[18.8,16.9],[21.7,17.16],[27.9,17.66],[33.2,18.02],[38.9,18.36],[45.8,18.59],[50.3,18.64],[54.2,18.71],[59.5,18.8],[65.7,18.91],[72.5,18.94],[78.7,19.03],[87.4,19.12],[95.4,19.3]];
const vrq_V = [[-14.4,19.53],[-12.8,18.91],[-10.5,18.14],[-8.7,17.88],[-6.4,17.7],[-4.1,17.52],[-1.8,17.43],[0.5,17.43],[2.7,17.48],[5.5,17.52],[8.5,17.55],[11.4,17.64],[16,17.93],[18.8,18.05],[21.7,18.23],[25.2,18.41],[28.6,18.59],[33.2,18.77],[38.2,19.09],[45.1,19.39],[50.3,19.51],[54.2,19.57],[59.5,19.78],[65.7,19.96],[68,19.96],[72.5,20.06],[78.7,20.22],[84.7,20.37],[87.4,20.4],[95.4,20.63],[101.6,20.72]];
const vrq_r = [[-14.4,21.08],[-12.8,20.49],[-10.5,19.98],[-8.7,19.57],[-6.4,19.33],[-4.1,19.17],[-1.8,19.07],[0.5,19.0],[2.7,18.98],[5.5,19.03],[8.5,19.12],[11.4,19.26],[16,19.57],[18.8,19.66],[21.7,19.71],[25.2,19.78],[28.6,19.83],[33.6,20.01],[45.8,20.63],[50.3,20.85],[54.2,20.94],[59.5,21.12],[66.8,21.35],[72.5,21.56],[78.7,21.7],[87.4,21.97],[95.4,22.18]];
const vrq_i = [[-14.4,22.82],[-12.8,22.27],[-10.5,21.76],[-8.7,21.35],[-6.4,21.08],[-4.1,20.99],[-1.8,20.99],[0.5,21.04],[2.7,21.08],[5.5,21.17],[8.5,21.35],[11.4,21.56],[16,21.83],[18.8,21.85],[21.7,21.79],[25.2,21.7],[28.6,21.7],[33.2,21.76],[45.1,22.36],[50.3,22.59],[54.2,22.72],[59.5,22.95],[65.7,23.16],[72.5,23.43],[78.7,23.61],[87.4,23.89],[95.4,24.14]];
const vrq_gf = [[10,16.22],[14,16.45],[18,16.82],[22,17.2],[26,17.52],[30,17.8],[34,18.05],[38,18.3]];
const vrq_Vf = [[10,17.6],[14,17.8],[18,18.02],[22,18.25],[26,18.45],[30,18.65],[34,18.85],[38,19.05]];
const vrq_rf = [[10,19.2],[14,19.45],[18,19.62],[22,19.72],[26,19.8],[30,19.9],[34,20.05],[38,20.25],[42,20.45]];
const vrq_if = [[10,21.45],[14,21.72],[18,21.84],[22,21.78],[26,21.7],[30,21.72],[34,21.82],[38,22.02]];
const vrq_err = [[0.5,12.98,0.25,'k'],[28.6,15.88,0.35,'k'],[33.2,16.13,0.4,'k'],[38.2,16.59,0.45,'k'],[40.5,16.54,0.45,'k'],[45.8,16.68,0.45,'k'],[50.3,16.96,0.4,'k'],[25.2,15.51,0.25,'k']];

const FONT = '"DejaVu Serif", serif';
const XLAB_B = 'Days since B maximum';
const YLAB = 'Apparent Magnitude + Offset';

function hatchMarker() {
  const c = document.createElement('canvas');
  c.width = 9; c.height = 9;
  const g = c.getContext('2d');
  g.beginPath(); g.arc(4.5, 4.5, 3.4, 0, Math.PI * 2);
  g.fillStyle = '#fff'; g.fill();
  g.save(); g.clip();
  g.strokeStyle = '#444'; g.lineWidth = 0.6;
  for (let k = -9; k <= 9; k += 3) {
    g.beginPath(); g.moveTo(k, 0); g.lineTo(k + 9, 9); g.stroke();
    g.beginPath(); g.moveTo(k + 9, 0); g.lineTo(k, 9); g.stroke();
  }
  g.restore();
  g.beginPath(); g.arc(4.5, 4.5, 3.4, 0, Math.PI * 2);
  g.strokeStyle = '#222'; g.lineWidth = 0.8; g.stroke();
  return c;
}

// marker looks, keyed by the short codes used in the panel lists
const MK = {
  B:  {s: 'circle', rot: 0, r: 3.7, c: '#0a0af0'},
  g:  {s: 'triangle', rot: 180, r: 4.5, c: '#0b640b'},
  V:  {s: 'rect', rot: 0, r: 5.0, c: '#ffa500'},
  r:  {s: 'triangle', rot: 270, r: 4.5, c: '#800080'},
  i:  {s: 'triangle', rot: 90, r: 4.5, c: '#4183b8'},
  Ik: {s: 'rectRot', rot: 0, r: 4.8, c: '#000'},
  Rk: {s: 'triangle', rot: 0, r: 4.5, c: '#000'},
  Bk: {s: 'circle', rot: 0, r: 3.7, c: '#000'},
  Vk: {s: 'rect', rot: 0, r: 5.0, c: '#000'},
  Rg: {s: 'triangle', rot: 0, r: 4.5, c: '#9a9a9a'},
  Ig: {s: 'rectRot', rot: 0, r: 4.8, c: '#d2d2d2'},
  Bw: {s: 'circle', rot: 0, r: 3.7, c: '#cfcfcf'},
  gw: {s: 'triangle', rot: 180, r: 4.5, c: '#e4e4e4'},
  Vw: {s: 'rect', rot: 0, r: 5.0, c: '#d4d4d4'},
  rw: {s: 'triangle', rot: 270, r: 4.5, c: '#e4e4e4'},
  iw: {s: 'triangle', rot: 90, r: 4.5, c: '#e4e4e4'},
  z:  {s: hatchMarker(), rot: 0, r: 4, c: '#fff'}
};
const ERRCOL = {B: '#2a3cff', g: '#1a7a1a', V: '#ffa500', r: '#8a1a8a', i: '#5b9bd0', k: '#b0b0b0'};

const LEG5 = [['B','B'],['g','g+1.5'],['V','V+3.0'],['r','r+4.5'],['i','i+6.0']];

const panels = [
  {name: 'SN2014dl', box: [37, 4, 193, 242], x: [-13.2, 55.6, 10, 5], y: [15.73, 26.37, 2, 4],
   series: [['B', dl_B], ['g', dl_g], ['V', dl_V], ['r', dl_r], ['i', dl_i]],
   fits: [dl_Bf, dl_gf, dl_Vf, dl_rf, dl_if], legend: LEG5},
  {name: 'SN2014eg', box: [295, 4, 194, 242], x: [-21, 320.5, 50, 5], y: [15.02, 27.25, 2, 4],
   series: [['B', eg_B], ['g', eg_g], ['V', eg_V], ['r', eg_r], ['i', eg_i]],
   fits: [eg_Bf, eg_if], errs: eg_err, legend: LEG5},
  {name: 'PS15sv', box: [554, 4, 193, 242], x: [-13.7, 65.8, 10, 5], y: [16.19, 25.7, 2, 4],
   series: [['B', sv_B], ['g', sv_g], ['V', sv_V], ['r', sv_r], ['i', sv_i]],
   fits: [sv_Bf, sv_gf, sv_Vf, sv_rf, sv_if], errs: sv_err, legend: LEG5},
  {name: 'LSQ15aae', box: [813, 4, 193, 242], x: [-17, 57, 10, 5], y: [17.56, 26.94, 2, 4],
   series: [['B', aae_B], ['g', aae_g], ['V', aae_V], ['r', aae_r], ['i', aae_i]],
   fits: [aae_Bf, aae_gf, aae_Vf, aae_rf, aae_if], errs: aae_err, legend: LEG5},

  {name: 'SN2016gcl', box: [37, 288, 193, 242], x: [-17.8, 138.6, 20, 4], y: [15.7, 28.55, 2, 4],
   series: [['B', gcl_B], ['Bk', gcl_Bk], ['g', gcl_g], ['V', gcl_V], ['Vk', gcl_Vk], ['r', gcl_r], ['i', gcl_i], ['Ik', gcl_I], ['Rk', gcl_R]],
   fits: [gcl_Bf, gcl_if], errs: gcl_err,
   legend: [['B','B'],['g','g+1.5'],['V','V+3.0'],['r','r+4.5'],['i','i+6.0'],['Ik','I+7.5'],['Rk','R+9.0'],[null,'Stahl 2019']]},
  {name: 'SN2016hvl', box: [295, 288, 194, 242], x: [-24.8, 174.5, 25, 4], y: [15.07, 30.78, 2, 4],
   series: [['B', hvl_B], ['Bk', hvl_Bk], ['g', hvl_g], ['gw', hvl_gw], ['V', hvl_V], ['Vk', hvl_Vk], ['r', hvl_r], ['rw', hvl_rw], ['i', hvl_i], ['iw', hvl_iw], ['Ik', hvl_I], ['Rk', hvl_R], ['z', hvl_z]],
   fits: [], errs: hvl_err,
   legend: [['B','B'],['g','g+1.5'],['V','V+3.0'],['r','r+4.5'],['i','i+6.0'],['Ik','I+7.5'],['Rk','R+9.0'],['z','z+10.5'],[null,'Stahl 2019'],[null,'Foley 2018']]},
  {name: 'SN2017awz', box: [554, 288, 193, 242], x: [-17, 136.3, 25, 4], y: [14.7, 28.82, 2, 4],
   series: [['B', awz_B], ['g', awz_g], ['V', awz_V], ['Vw', awz_Vw], ['r', awz_r], ['i', awz_i], ['Rg', awz_R], ['Ig', awz_I], ['z', awz_z]],
   fits: [], errs: awz_err,
   legend: [['B','B'],['g','g+1.5'],['V','V+3.0'],['r','r+4.5'],['i','i+6.0'],['Rg','R+7.5'],['Ig','I+9.0'],['z','z+10.5'],[null,'Foley 2018'],[null,'TNT']]},
  {name: 'SN2017dfb', box: [813, 288, 193, 242], x: [-15.8, 94.9, 20, 4], y: [15.68, 26.63, 2, 4],
   series: [['B', dfb_B], ['g', dfb_g], ['V', dfb_V], ['r', dfb_r], ['i', dfb_i]],
   fits: [dfb_Bf, dfb_gf, dfb_Vf, dfb_rf, dfb_if], errs: dfb_err, legend: LEG5},

  {name: 'SN2017glx', box: [37, 574, 193, 241], x: [-17.3, 97.9, 20, 4], y: [13.9, 28.02, 2, 4],
   series: [['Bk', glx_Bk], ['B', glx_B], ['g', glx_g], ['Vk', glx_Vk], ['V', glx_V], ['r', glx_r], ['i', glx_i], ['Ik', glx_I], ['Rk', glx_R]],
   fits: [glx_Bf, glx_gf, glx_Vf, glx_rf, glx_if], errs: glx_err,
   legend: [['B','B'],['g','g+1.5'],['V','V+3.0'],['r','r+4.5'],['i','i+6.0'],['Ik','I+7.5'],['Rk','R+9.0'],[null,'Stahl 2019']]},
  {name: 'SN2017hng', box: [295, 573, 194, 242], x: [-19.2, 136, 20, 4], y: [16.4, 27.75, 2, 4],
   series: [['B', hng_B], ['g', hng_g], ['gw', hng_gw], ['V', hng_V], ['r', hng_r], ['rw', hng_rw], ['i', hng_i], ['iw', hng_iw]],
   fits: [hng_Bf, hng_gf, hng_Vf, hng_rf, hng_if], errs: hng_err,
   legend: [['B','B'],['g','g+1.5'],['V','V+3.0'],['r','r+4.5'],['i','i+6.0'],[null,'TNT']]},
  {name: 'SN2018apo', box: [554, 573, 193, 242], x: [-17.9, 136.5, 20, 4], y: [15.0, 23.87, 1, 5],
   xlab: 'Days since g maximum',
   series: [['g', apo_g], ['r', apo_r], ['i', apo_i]],
   fits: [apo_gf, apo_rf, apo_if], errs: apo_err,
   legend: [['g','g'],['r','r+1.5'],['i','i+3.0']]},
  {name: 'SN2018bie', box: [813, 573, 193, 242], x: [-20.9, 85.5, 20, 4], y: [15.36, 25.85, 2, 4],
   series: [['B', bie_B], ['Bw', bie_Bw], ['g', bie_g], ['V', bie_V], ['r', bie_r], ['i', bie_i]],
   fits: [bie_Bf, bie_gf, bie_Vf, bie_rf, bie_if], errs: bie_err,
   legend: [['B','B'],['g','g+1.5'],['V','V+3.0'],['r','r+4.5'],['i','i+6.0'],[null,'ANDICAM']]},

  {name: 'SN2018cnw', box: [37, 861, 193, 242], x: [-23.3, 137.5, 25, 4], y: [13.5, 26.96, 2, 4],
   series: [['z', cnw_U], ['B', cnw_B], ['g', cnw_g], ['gw', cnw_gw], ['V', cnw_V], ['Vw', cnw_Vw], ['r', cnw_r], ['rw', cnw_rw], ['i', cnw_i], ['iw', cnw_iw]],
   fits: [cnw_Bf, cnw_gf, cnw_Vf, cnw_rf, cnw_if], errs: cnw_err,
   legend: [['B','B'],['g','g+1.5'],['V','V+3.0'],['r','r+4.5'],['i','i+6.0'],['z','U\u22121.0'],[null,'TNT']]},
  {name: 'SN2019dks', box: [295, 861, 194, 242], x: [-18.4, 93.2, 20, 4], y: [14.89, 28.29, 2, 4],
   series: [['z', dks_U], ['B', dks_B], ['g', dks_g], ['V', dks_V], ['r', dks_r], ['i', dks_i]],
   fits: [dks_Bf, dks_gf, dks_Vf, dks_rf, dks_if], errs: dks_err,
   legend: [['B','B'],['g','g+1.5'],['V','V+3.0'],['r','r+4.5'],['i','i+6.0'],['z','U\u22121.0'],[null,'ANDICAM']]},
  {name: 'SN2019gwa', box: [560, 869, 187, 234], yw: 42, x: [-11.8, 55.4, 10, 5], y: [17.57, 21.91, 0.5, 5], dec: 1,
   series: [['B', gwa_B], ['V', gwa_V], ['z', gwa_R]],
   fits: [gwa_Bf, gwa_Vf], errs: gwa_err,
   legend: [['B','B'],['V','V+1.5'],['z','R+3.0']]},
  {name: 'SN2019vrq', box: [813, 861, 193, 242], x: [-24.4, 110, 20, 4], y: [11.97, 24.85, 2, 4],
   series: [['z', vrq_U], ['B', vrq_B], ['g', vrq_g], ['V', vrq_V], ['r', vrq_r], ['i', vrq_i]],
   fits: [vrq_gf, vrq_Vf, vrq_rf, vrq_if], errs: vrq_err,
   legend: [['B','B'],['g','g+1.5'],['V','V+3.0'],['r','r+4.5'],['i','i+6.0'],['z','U\u22121.0']]}
];

function tickList(min, max, step) {
  const out = [];
  let k = Math.ceil(min / step - 1e-9);
  while (k * step <= max + 1e-9) { out.push({value: +(k * step).toFixed(6)}); k++; }
  return out;
}

function fmt(v, dec) {
  const s = dec ? v.toFixed(dec) : String(Math.round(v * 1000) / 1000);
  return s.replace('-', '\u2212');
}

// vertical error bars, drawn under the markers
const errorBars = {
  id: 'errorBars',
  beforeDatasetsDraw(chart, args, o) {
    if (!o.items || !o.items.length) return;
    const {ctx, chartArea: a} = chart;
    const xs = chart.scales.x, ys = chart.scales.y;
    ctx.save();
    ctx.beginPath();
    ctx.rect(a.left, a.top, a.right - a.left, a.bottom - a.top);
    ctx.clip();
    ctx.lineWidth = 1;
    o.items.forEach(([x, y, e, k]) => {
      const px = Math.round(xs.getPixelForValue(x)) + 0.5;
      ctx.strokeStyle = ERRCOL[k];
      ctx.beginPath();
      ctx.moveTo(px, ys.getPixelForValue(y - e));
      ctx.lineTo(px, ys.getPixelForValue(y + e));
      ctx.stroke();
    });
    ctx.restore();
  }
};

// frame on all four sides with inward major and minor ticks
const frameTicks = {
  id: 'frameTicks',
  afterDraw(chart, args, o) {
    const {ctx, chartArea: a} = chart;
    const xs = chart.scales.x, ys = chart.scales.y;
    ctx.save();
    ctx.strokeStyle = '#222';
    ctx.lineWidth = 1;
    ctx.strokeRect(a.left + 0.5, a.top + 0.5, a.right - a.left - 1, a.bottom - a.top - 1);
    const marks = (scale, step, ndiv, horiz) => {
      const minor = step / ndiv;
      let k = Math.ceil(scale.min / minor - 1e-6);
      for (; k * minor <= scale.max + 1e-6; k++) {
        const major = Math.abs(k % ndiv) < 1e-9;
        const len = major ? 4 : 2;
        const p = Math.round(scale.getPixelForValue(k * minor)) + 0.5;
        ctx.beginPath();
        if (horiz) {
          ctx.moveTo(p, a.bottom); ctx.lineTo(p, a.bottom - len);
          ctx.moveTo(p, a.top); ctx.lineTo(p, a.top + len);
        } else {
          ctx.moveTo(a.left, p); ctx.lineTo(a.left + len, p);
          ctx.moveTo(a.right, p); ctx.lineTo(a.right - len, p);
        }
        ctx.stroke();
      }
    };
    marks(xs, o.xs, o.xn, true);
    marks(ys, o.ys, o.yn, false);
    ctx.restore();
  }
};

// matplotlib-like legend box in the upper right, two columns filled column by column
const innerLegend = {
  id: 'innerLegend',
  afterDraw(chart, args, o) {
    const entries = o.entries;
    if (!entries || !entries.length) return;
    const {ctx, chartArea: a} = chart;
    ctx.save();
    ctx.font = '8px ' + FONT;
    const nrow = Math.ceil(entries.length / 2);
    const cols = [entries.slice(0, nrow), entries.slice(nrow)].filter(c => c.length);
    const colW = cols.map(c => 22.4 + Math.max(...c.map(e => ctx.measureText(e[1]).width)));
    const w = 6.4 + colW.reduce((s, v) => s + v, 0) + 16 * (cols.length - 1);
    const h = 8.7 + (nrow - 1) * 8 + 7;
    const x0 = a.right - 4.5 - w, y0 = a.top + 2;
    ctx.beginPath();
    ctx.roundRect(x0 + 0.5, y0 + 0.5, w, h, 2);
    ctx.fillStyle = 'rgba(255,255,255,0.8)';
    ctx.fill();
    ctx.strokeStyle = '#cccccc';
    ctx.lineWidth = 1;
    ctx.stroke();
    let cx = x0 + 3.2;
    cols.forEach((c, ci) => {
      c.forEach((e, ri) => {
        const cy = y0 + 8.7 + ri * 8;
        if (e[0]) {
          const m = MK[e[0]];
          ctx.fillStyle = m.c;
          ctx.strokeStyle = '#000';
          ctx.lineWidth = 0.8;
          Chart.helpers.drawPoint(ctx, {pointStyle: m.s, rotation: m.rot, radius: m.r, borderWidth: 0.8}, cx + 8, cy);
        }
        ctx.fillStyle = '#111';
        ctx.textBaseline = 'middle';
        ctx.textAlign = 'left';
        ctx.fillText(e[1], cx + 22.4, cy + 0.5);
      });
      cx += colW[ci] + 16;
    });
    ctx.restore();
  }
};

const snLabel = {
  id: 'snLabel',
  afterDraw(chart, args, o) {
    const {ctx, chartArea: a} = chart;
    ctx.save();
    ctx.font = 'bold 10px ' + FONT;
    ctx.fillStyle = '#111';
    ctx.textBaseline = 'middle';
    ctx.fillText(o.text, a.left + 19, a.bottom - 25);
    ctx.restore();
  }
};

Chart.register(errorBars, frameTicks, innerLegend, snLabel);

const wrap = document.getElementById('wrap');

function addPanel(p) {
  const [L, T, W, H] = p.box;
  const yw = p.yw || 37;
  const cw = yw + W + 6, ch = 6 + H + 28 + 2;
  const cv = document.createElement('canvas');
  cv.width = cw; cv.height = ch;
  cv.style.cssText = 'position:absolute;left:' + (L - yw) + 'px;top:' + (T - 6) + 'px;width:' + cw + 'px;height:' + ch + 'px;';
  wrap.appendChild(cv);

  const datasets = [];
  p.fits.forEach(f => datasets.push({
    data: f.map(([x, y]) => ({x, y})),
    showLine: true, pointRadius: 0, borderColor: '#111', borderWidth: 1,
    borderDash: [3, 2], cubicInterpolationMode: 'monotone', order: 0
  }));
  p.series.forEach(([k, arr]) => {
    const m = MK[k];
    datasets.push({
      data: arr.map(([x, y]) => ({x, y})),
      showLine: false, pointStyle: m.s, pointRotation: m.rot, pointRadius: m.r,
      pointBackgroundColor: m.c, pointBorderColor: '#000', pointBorderWidth: 0.8,
      order: 1
    });
  });

  new Chart(cv, {
    type: 'scatter',
    data: {datasets},
    options: {
      responsive: false,
      animation: false,
      events: [],
      layout: {padding: {left: 0, top: 6, right: 6, bottom: 2}},
      scales: {
        x: {
          type: 'linear', position: 'bottom', min: p.x[0], max: p.x[1],
          afterBuildTicks: s => { s.ticks = tickList(p.x[0], p.x[1], p.x[2]); },
          afterFit: s => { s.height = 28; },
          grid: {display: false, drawTicks: false}, border: {display: false},
          ticks: {font: {family: FONT, size: 7.5}, color: '#111', padding: 4, maxRotation: 0, autoSkip: false,
                  callback: v => fmt(v, 0)},
          title: {display: true, text: p.xlab || XLAB_B, font: {family: FONT, size: 10}, color: '#111',
                  padding: {top: 0, bottom: 4}}
        },
        y: {
          type: 'linear', position: 'left', reverse: true, min: p.y[0], max: p.y[1],
          afterBuildTicks: s => { s.ticks = tickList(p.y[0], p.y[1], p.y[2]); },
          afterFit: s => { s.width = yw; },
          grid: {display: false, drawTicks: false}, border: {display: false},
          ticks: {font: {family: FONT, size: 7.5}, color: '#111', padding: 4, autoSkip: false,
                  callback: v => fmt(v, p.dec || 0)},
          title: {display: true, text: YLAB, font: {family: FONT, size: 10}, color: '#111',
                  padding: {top: 8, bottom: 0}}
        }
      },
      plugins: {
        legend: {display: false},
        tooltip: {enabled: false},
        errorBars: {items: p.errs || []},
        frameTicks: {xs: p.x[2], xn: p.x[3], ys: p.y[2], yn: p.y[3]},
        innerLegend: {entries: p.legend},
        snLabel: {text: p.name}
      }
    }
  });
}

panels.forEach(addPanel);
</script>
</body>
</html>
